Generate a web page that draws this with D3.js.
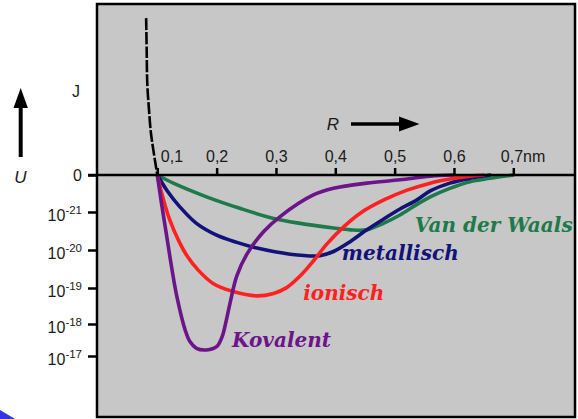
<!DOCTYPE html>
<html><head><meta charset="utf-8">
<script src="https://cdn.jsdelivr.net/npm/d3@7"></script>
<style>
html,body{margin:0;padding:0;background:#fff;}
svg{display:block;}
</style></head>
<body>
<svg id="chart" width="578" height="419"></svg>
<script>
// ---- data (R in nm, U as level on the chart's stepped energy axis: 0 = zero line, 1 = 10^-21 ... 5 = 10^-17)
const xTicks = [0.1, 0.2, 0.3, 0.4, 0.5, 0.6, 0.7];
const xTickLabels = ["0,1", "0,2", "0,3", "0,4", "0,5", "0,6", "0,7"];
const xUnit = "nm";
const yLevels = [0, 1, 2, 3, 4, 5];
const yTickBase = ["0", "10", "10", "10", "10", "10"];
const yTickExp = ["", "-21", "-20", "-19", "-18", "-17"];

const seriesNames = ["Kovalent", "ionisch", "metallisch", "Van der Waals"];
const seriesColors = ["#6c1489", "#ff2020", "#121278", "#1f7a4b"];

const kovalentR = [0.100,0.107,0.116,0.124,0.133,0.147,0.155,0.166,0.183,0.200,0.209,0.216,0.223,0.234,0.251,0.279,0.307,0.363,0.397,0.453,0.509,0.560,0.600];
const kovalentU = [0,0.76,1.65,2.44,3.24,4.19,4.55,4.76,4.81,4.71,4.41,3.92,3.39,2.68,2.11,1.52,1.12,0.54,0.36,0.22,0.13,0.03,0];

const ionischR = [0.100,0.106,0.121,0.138,0.150,0.169,0.194,0.228,0.268,0.296,0.318,0.341,0.363,0.386,0.414,0.442,0.481,0.521,0.560,0.593,0.627,0.650];
const ionischU = [0,0.41,1.21,1.82,2.15,2.53,2.88,3.10,3.22,3.15,2.99,2.68,2.29,1.84,1.39,1.03,0.68,0.41,0.22,0.11,0.03,0];

const metallischR = [0.100,0.116,0.138,0.166,0.200,0.234,0.268,0.324,0.374,0.397,0.425,0.453,0.481,0.509,0.537,0.560,0.593,0.627,0.661];
const metallischU = [0,0.41,0.86,1.30,1.61,1.80,1.95,2.11,2.15,2.04,1.78,1.47,1.19,0.92,0.68,0.43,0.22,0.09,0];

const vdwR = [0.100,0.127,0.183,0.239,0.296,0.341,0.397,0.425,0.453,0.481,0.509,0.537,0.560,0.593,0.627,0.661,0.700];
const vdwU = [0,0.22,0.59,0.90,1.17,1.30,1.42,1.47,1.47,1.30,1.08,0.80,0.59,0.36,0.18,0.09,0];

const repulsiveR = [0.0812,0.0821,0.0831,0.0860,0.0893,0.0933,0.100];
const repulsiveU = [-4.24,-3.38,-2.48,-1.76,-1.13,-0.68,0];

// label anchors in data units (R nm, U level)
const labelR = [0.226, 0.346, 0.411, 0.534];
const labelU = [4.72, 3.33, 2.26, 1.53];

// ---- layout
const svg = d3.select("#chart");
const box = {x0: 97, y0: 4, x1: 575, y1: 417};

const x = d3.scaleLinear().domain([0.1, 0.7]).range([157.3, 513.3]);
const y = d3.scaleLinear().domain(yLevels).range([175, 212, 250, 288, 324, 356]);

// decorative swoosh (bottom-left)
svg.append("path").attr("d", "M0,410 Q7,414 15,419 L0,419 Z").attr("fill", "#3535e0");

// plot box
svg.append("rect").attr("x", box.x0).attr("y", box.y0)
  .attr("width", box.x1 - box.x0).attr("height", box.y1 - box.y0)
  .attr("fill", "#c7c7c7").attr("stroke", "none");

svg.append("defs").append("clipPath").attr("id", "clip")
  .append("rect").attr("x", box.x0).attr("y", box.y0)
  .attr("width", box.x1 - box.x0).attr("height", box.y1 - box.y0);

const plot = svg.append("g").attr("clip-path", "url(#clip)");

// zero line (R axis)
svg.append("line").attr("x1", 88).attr("x2", box.x1).attr("y1", y(0)).attr("y2", y(0))
  .attr("stroke", "#000").attr("stroke-width", 2.5);

// x axis ticks + labels
const xAxis = d3.axisTop(x).tickValues(xTicks).tickSize(7).tickPadding(6)
  .tickFormat((d, i) => xTickLabels[i]);
const gx = svg.append("g").attr("transform", `translate(0,${y(0)})`).call(xAxis);
gx.select(".domain").remove();
gx.selectAll(".tick line").attr("stroke", "#000").attr("stroke-width", 2.5);
gx.selectAll(".tick text").attr("fill", "#1a1a1a")
  .style("font-family", "Liberation Sans, Arial, sans-serif").style("font-size", "16px");
gx.selectAll(".tick text").filter((d, i) => i === 0).attr("text-anchor", "start").attr("x", 3);
gx.selectAll(".tick text").filter((d, i) => i === xTicks.length - 1)
  .attr("text-anchor", "start").attr("x", -13)
  .append("tspan").text(xUnit);

// y axis ticks + labels
const yAxis = d3.axisLeft(y).tickValues(yLevels).tickSize(9).tickPadding(7).tickFormat(() => "");
const gy = svg.append("g").attr("transform", `translate(${box.x0},0)`).call(yAxis);
gy.select(".domain").remove();
gy.selectAll(".tick line").attr("stroke", "#000").attr("stroke-width", 2.5);
gy.selectAll(".tick text").each(function(d, i) {
  const t = d3.select(this).attr("fill", "#1a1a1a")
    .style("font-family", "Liberation Sans, Arial, sans-serif").style("font-size", "16px")
    .attr("x", -15).attr("dy", i === 0 ? "0.35em" : "0.5em");
  t.text(null);
  t.append("tspan").text(yTickBase[i]);
  if (yTickExp[i]) t.append("tspan").attr("dy", "-0.55em").style("font-size", "11.5px").text(yTickExp[i]);
});

// curves
const line = d3.line().x(d => x(d[0])).y(d => y(d[1])).curve(d3.curveCatmullRom.alpha(0.5));
const seriesR = [kovalentR, ionischR, metallischR, vdwR];
const seriesU = [kovalentU, ionischU, metallischU, vdwU];
const order = [3, 2, 1, 0];
order.forEach(k => {
  const pts = seriesR[k].map((r, i) => [r, seriesU[k][i]]);
  plot.append("path").attr("d", line(pts)).attr("fill", "none")
    .attr("stroke", seriesColors[k]).attr("stroke-width", 3.6)
    .attr("stroke-linejoin", "round").attr("stroke-linecap", "round");
});

// repulsive branch (dashed)
plot.append("path").attr("d", line(repulsiveR.map((r, i) => [r, repulsiveU[i]])))
  .attr("fill", "none").attr("stroke", "#000").attr("stroke-width", 2.6)
  .attr("stroke-dasharray", "12,2");

// series labels
seriesNames.forEach((name, k) => {
  plot.append("text").attr("x", x(labelR[k])).attr("y", y(labelU[k]))
    .attr("fill", seriesColors[k])
    .style("font-family", "DejaVu Serif, serif").style("font-weight", "bold")
    .style("font-style", "italic").style("font-size", "20px")
    .text(name);
});

// box border
svg.append("rect").attr("x", box.x0).attr("y", box.y0)
  .attr("width", box.x1 - box.x0).attr("height", box.y1 - box.y0)
  .attr("fill", "none").attr("stroke", "#000").attr("stroke-width", 2.5);

// unit label J and U arrow
const sans = "Liberation Sans, Arial, sans-serif";
svg.append("text").attr("x", 76).attr("y", 97).attr("text-anchor", "middle")
  .style("font-family", sans).style("font-size", "16px").attr("fill", "#1a1a1a").text("J");
svg.append("text").attr("x", 20.5).attr("y", 183).attr("text-anchor", "middle")
  .style("font-family", sans).style("font-size", "17px").style("font-style", "italic")
  .attr("fill", "#1a1a1a").text("U");
svg.append("line").attr("x1", 20.7).attr("x2", 20.7).attr("y1", 157).attr("y2", 104)
  .attr("stroke", "#000").attr("stroke-width", 4);
svg.append("path").attr("d", "M20.7,88 L13.5,108 L27.9,108 Z").attr("fill", "#000");

// R arrow
svg.append("text").attr("x", 333).attr("y", 130).attr("text-anchor", "middle")
  .style("font-family", sans).style("font-size", "17px").style("font-style", "italic")
  .attr("fill", "#1a1a1a").text("R");
svg.append("line").attr("x1", 351).attr("x2", 402).attr("y1", 124).attr("y2", 124)
  .attr("stroke", "#000").attr("stroke-width", 3.5);
svg.append("path").attr("d", "M419.5,124 L399,116.5 L399,131.5 Z").attr("fill", "#000");
</script>
</body></html>
